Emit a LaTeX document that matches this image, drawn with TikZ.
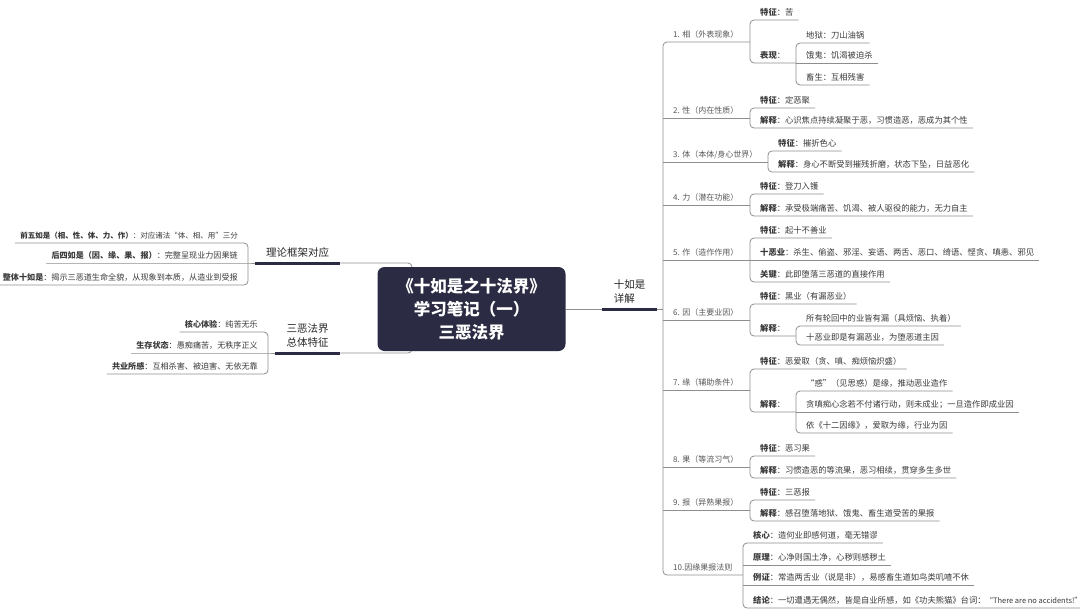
\documentclass[tikz,border=0pt]{standalone}
\usepackage{fontspec}
\setmainfont{Noto Sans CJK SC}
\definecolor{navy}{HTML}{2B2C43}
\definecolor{linegray}{HTML}{8E8E8E}
\definecolor{txt}{HTML}{3A3A3A}
\newcommand{\kv}[2]{{\bfseries #1}：#2}
\begin{document}
\begin{tikzpicture}[x=1pt,y=-1pt,
  conn/.style={draw=linegray, line width=0.8pt},
  brk/.style={conn, rounded corners=4pt},
  bar/.style={draw=navy, line width=3pt},
  leaf/.style={inner xsep=5pt, inner ysep=3pt, text height=6.5pt, text depth=1.5pt, font=\fontsize{8.3}{10}\selectfont, text=txt},
  lleaf/.style={leaf, font=\fontsize{8.1}{10}\selectfont},
  lvl/.style={leaf, font=\fontsize{8}{10}\selectfont, text=txt!85},
  mainnode/.style={font=\fontsize{10.5}{14}\selectfont, text=black!85, inner xsep=0pt, inner ysep=5pt},
  root/.style={fill=navy, rounded corners=7pt, minimum width=188pt, minimum height=84pt, text=white, font=\fontsize{16.5}{23}\selectfont\bfseries, align=center}
]
\fill[white] (0,0) rectangle (1080,616);
\useasboundingbox (0,0) rectangle (1080,616);

% ---------- left main branches ----------
\node[mainnode, anchor=south west, minimum width=85pt] (L1) at (255,263) {理论框架对应};
\node[mainnode, anchor=south west, minimum width=65pt, align=center] (L2) at (275,353) {三恶法界\\总体特征};
\coordinate (lsp) at (412,309);
\draw[brk] (L1.south east) -- (L1.south east -| lsp) -- (L2.south east -| lsp) -- (L2.south east);

% ---------- root ----------
\node[root] (root) at (471.5,309) {《十如是之十法界》\\学习笔记（一）\\三恶法界};

\draw[bar] (L1.south west) -- (L1.south east);
\draw[bar] (L2.south west) -- (L2.south east);

% ---------- left children ----------
\coordinate (bl1) at (248,263);
\node[lleaf, font=\fontsize{7.5}{10}\selectfont, anchor=south east] (l11) at (243,243) {{\bfseries 前五如是（相、性、体、力、作）}：对应诸法“体、相、用”三分};
\node[lleaf, anchor=south east] (l12) at (243,263) {{\bfseries 后四如是（因、缘、果、报）}：完整呈现业力因果链};
\node[lleaf, anchor=south east] (l13) at (243,285) {\kv{整体十如是}{揭示三恶道生命全貌，从现象到本质，从造业到受报}};
\draw[brk] (l11.south west) -- (l11.south west -| bl1) -- (l13.south west -| bl1) -- (l13.south west);
\draw[conn] (l12.south west) -- (bl1) -- (L1.south west);

\coordinate (bl2) at (268,353);
\node[lleaf, anchor=south east] (l21) at (263,332) {\kv{核心体验}{纯苦无乐}};
\node[lleaf, anchor=south east] (l22) at (263,353) {\kv{生存状态}{愚痴痛苦，无秩序正义}};
\node[lleaf, anchor=south east] (l23) at (263,374) {\kv{共业所感}{互相杀害、被迫害、无依无靠}};
\draw[brk] (l21.south west) -- (l21.south west -| bl2) -- (l23.south west -| bl2) -- (l23.south west);
\draw[conn] (l22.south west) -- (bl2) -- (L2.south west);

% ---------- right main branch ----------
\node[mainnode, anchor=south west, minimum width=55pt, align=left] (R0) at (602,309) {十如是\\详解};
\coordinate (sp) at (663,309);
\draw[conn] (root.east) -- (R0.south west);
\draw[bar] (R0.south west) -- (R0.south east);
\draw[conn] (R0.south east) -- (sp);

% first-level brackets
\coordinate (b1) at (750,42);
\coordinate (b2) at (750,118);
\coordinate (b3) at (768,162);
\coordinate (b4) at (750,205);
\coordinate (b5) at (750,260);
\coordinate (b6) at (750,320);
\coordinate (b7) at (750,390);
\coordinate (b8) at (750,467);
\coordinate (b9) at (750,510);
\coordinate (b10) at (743,575);
\draw[brk] (b1) -- (b1 -| sp) -- (b10 -| sp) -- (b10);
\foreach \i in {2,...,9} \draw[conn] (b\i -| sp) -- (b\i);

\node[lvl, anchor=south west] (r1) at (668,42) {1. 相（外表现象）};
\node[lvl, anchor=south west] (r2) at (668,118) {2. 性（内在性质）};
\node[lvl, anchor=south west] (r3) at (668,162) {3. 体（本体/身心世界）};
\node[lvl, anchor=south west] (r4) at (668,205) {4. 力（潜在功能）};
\node[lvl, anchor=south west] (r5) at (668,260) {5. 作（造作作用）};
\node[lvl, anchor=south west] (r6) at (668,320) {6. 因（主要业因）};
\node[lvl, anchor=south west] (r7) at (668,390) {7. 缘（辅助条件）};
\node[lvl, anchor=south west] (r8) at (668,467) {8. 果（等流习气）};
\node[lvl, anchor=south west] (r9) at (668,510) {9. 报（异熟果报）};
\node[lvl, anchor=south west] (r10) at (668,575) {10.因缘果报法则};

% 1
\node[leaf, anchor=south west] (a1) at (755,20) {\kv{特征}{苦}};
\node[leaf, anchor=south west] (a2) at (755,63) {\kv{表现}{}};
\coordinate (b1s) at (796,63);
\draw[brk] (a1.south east) -- (a1.south east -| b1) -- (b1s -| b1) -- (b1s);
\node[leaf, anchor=south west] (a21) at (801,43) {地狱：刀山油锅};
\node[leaf, anchor=south west] (a22) at (801,63) {饿鬼：饥渴被迫杀};
\node[leaf, anchor=south west] (a23) at (801,85) {畜生：互相残害};
\draw[brk] (a21.south east) -- (a21.south east -| b1s) -- (a23.south east -| b1s) -- (a23.south east);
\draw[conn] (b1s) -- (a22.south east);

% 2
\node[leaf, anchor=south west] (c21) at (755,108) {\kv{特征}{定恶聚}};
\node[leaf, anchor=south west] (c22) at (755,128) {\kv{解释}{心识焦点持续凝聚于恶，习惯造恶，恶成为其个性}};
\draw[brk] (c21.south east) -- (c21.south east -| b2) -- (c22.south east -| b2) -- (c22.south east);

% 3
\node[leaf, anchor=south west] (c31) at (773,151) {\kv{特征}{摧折色心}};
\node[leaf, anchor=south west] (c32) at (773,172) {\kv{解释}{身心不断受到摧残折磨，状态下坠，日益恶化}};
\draw[brk] (c31.south east) -- (c31.south east -| b3) -- (c32.south east -| b3) -- (c32.south east);

% 4
\node[leaf, anchor=south west] (c41) at (755,194) {\kv{特征}{登刀入镬}};
\node[leaf, anchor=south west] (c42) at (755,216) {\kv{解释}{承受极端痛苦、饥渴、被人驱役的能力，无力自主}};
\draw[brk] (c41.south east) -- (c41.south east -| b4) -- (c42.south east -| b4) -- (c42.south east);

% 5
\node[leaf, anchor=south west] (c51) at (755,238) {\kv{特征}{起十不善业}};
\node[leaf, anchor=south west] (c52) at (755,260) {\kv{十恶业}{杀生、偷盗、邪淫、妄语、两舌、恶口、绮语、悭贪、嗔恚、邪见}};
\node[leaf, anchor=south west] (c53) at (755,282) {\kv{关键}{此即堕落三恶道的直接作用}};
\draw[brk] (c51.south east) -- (c51.south east -| b5) -- (c53.south east -| b5) -- (c53.south east);
\draw[conn] (b5) -- (c52.south east);

% 6
\node[leaf, anchor=south west] (c61) at (755,304) {\kv{特征}{黑业（有漏恶业）}};
\node[leaf, anchor=south west] (c62) at (755,336) {\kv{解释}{}};
\coordinate (b6s) at (796,336);
\draw[brk] (c61.south east) -- (c61.south east -| b6) -- (b6s -| b6) -- (b6s);
\node[leaf, anchor=south west] (c621) at (801,326) {所有轮回中的业皆有漏（具烦恼、执着）};
\node[leaf, anchor=south west] (c622) at (801,345) {十恶业即是有漏恶业，为堕恶道主因};
\draw[brk] (c621.south east) -- (c621.south east -| b6s) -- (c622.south east -| b6s) -- (c622.south east);

% 7
\node[leaf, anchor=south west] (c71) at (755,369) {\kv{特征}{恶爱取（贪、嗔、痴烦恼炽盛）}};
\node[leaf, anchor=south west] (c72) at (755,412) {\kv{解释}{}};
\coordinate (b7s) at (796,412);
\draw[brk] (c71.south east) -- (c71.south east -| b7) -- (b7s -| b7) -- (b7s);
\node[leaf, anchor=south west] (c721) at (801,391) {“惑”（见思惑）是缘，推动恶业造作};
\node[leaf, anchor=south west] (c722) at (801,412) {贪嗔痴心念若不付诸行动，则未成业；一旦造作即成业因};
\node[leaf, anchor=south west] (c723) at (801,433) {依《十二因缘》，爱取为缘，行业为因};
\draw[brk] (c721.south east) -- (c721.south east -| b7s) -- (c723.south east -| b7s) -- (c723.south east);
\draw[conn] (b7s) -- (c722.south east);

% 8
\node[leaf, anchor=south west] (c81) at (755,456) {\kv{特征}{恶习果}};
\node[leaf, anchor=south west] (c82) at (755,478) {\kv{解释}{习惯造恶的等流果，恶习相续，贯穿多生多世}};
\draw[brk] (c81.south east) -- (c81.south east -| b8) -- (c82.south east -| b8) -- (c82.south east);

% 9
\node[leaf, anchor=south west] (c91) at (755,500) {\kv{特征}{三恶报}};
\node[leaf, anchor=south west] (c92) at (755,521) {\kv{解释}{感召堕落地狱、饿鬼、畜生道受苦的果报}};
\draw[brk] (c91.south east) -- (c91.south east -| b9) -- (c92.south east -| b9) -- (c92.south east);

% 10
\node[leaf, anchor=south west] (d1) at (748,543) {\kv{核心}{造何业即感何道，毫无错谬}};
\node[leaf, anchor=south west] (d2) at (748,565) {\kv{原理}{心净则国土净，心秽则感秽土}};
\node[leaf, anchor=south west] (d3) at (748,585) {\kv{例证}{常造两舌业（说是非），易感畜生道如鸟类叽喳不休}};
\node[leaf, anchor=south west] (d4) at (748,608) {\kv{结论}{一切遭遇无偶然，皆是自业所感，如《功夫熊猫》台词：{\fontsize{7.5}{10}\selectfont “There are no accidents!”}}};
\draw[brk] (d1.south east) -- (d1.south east -| b10) -- (d4.south east -| b10) -- (d4.south east);
\draw[conn] (d2.south east -| b10) -- (d2.south east);
\draw[conn] (d3.south east -| b10) -- (d3.south east);
\end{tikzpicture}
\end{document}
